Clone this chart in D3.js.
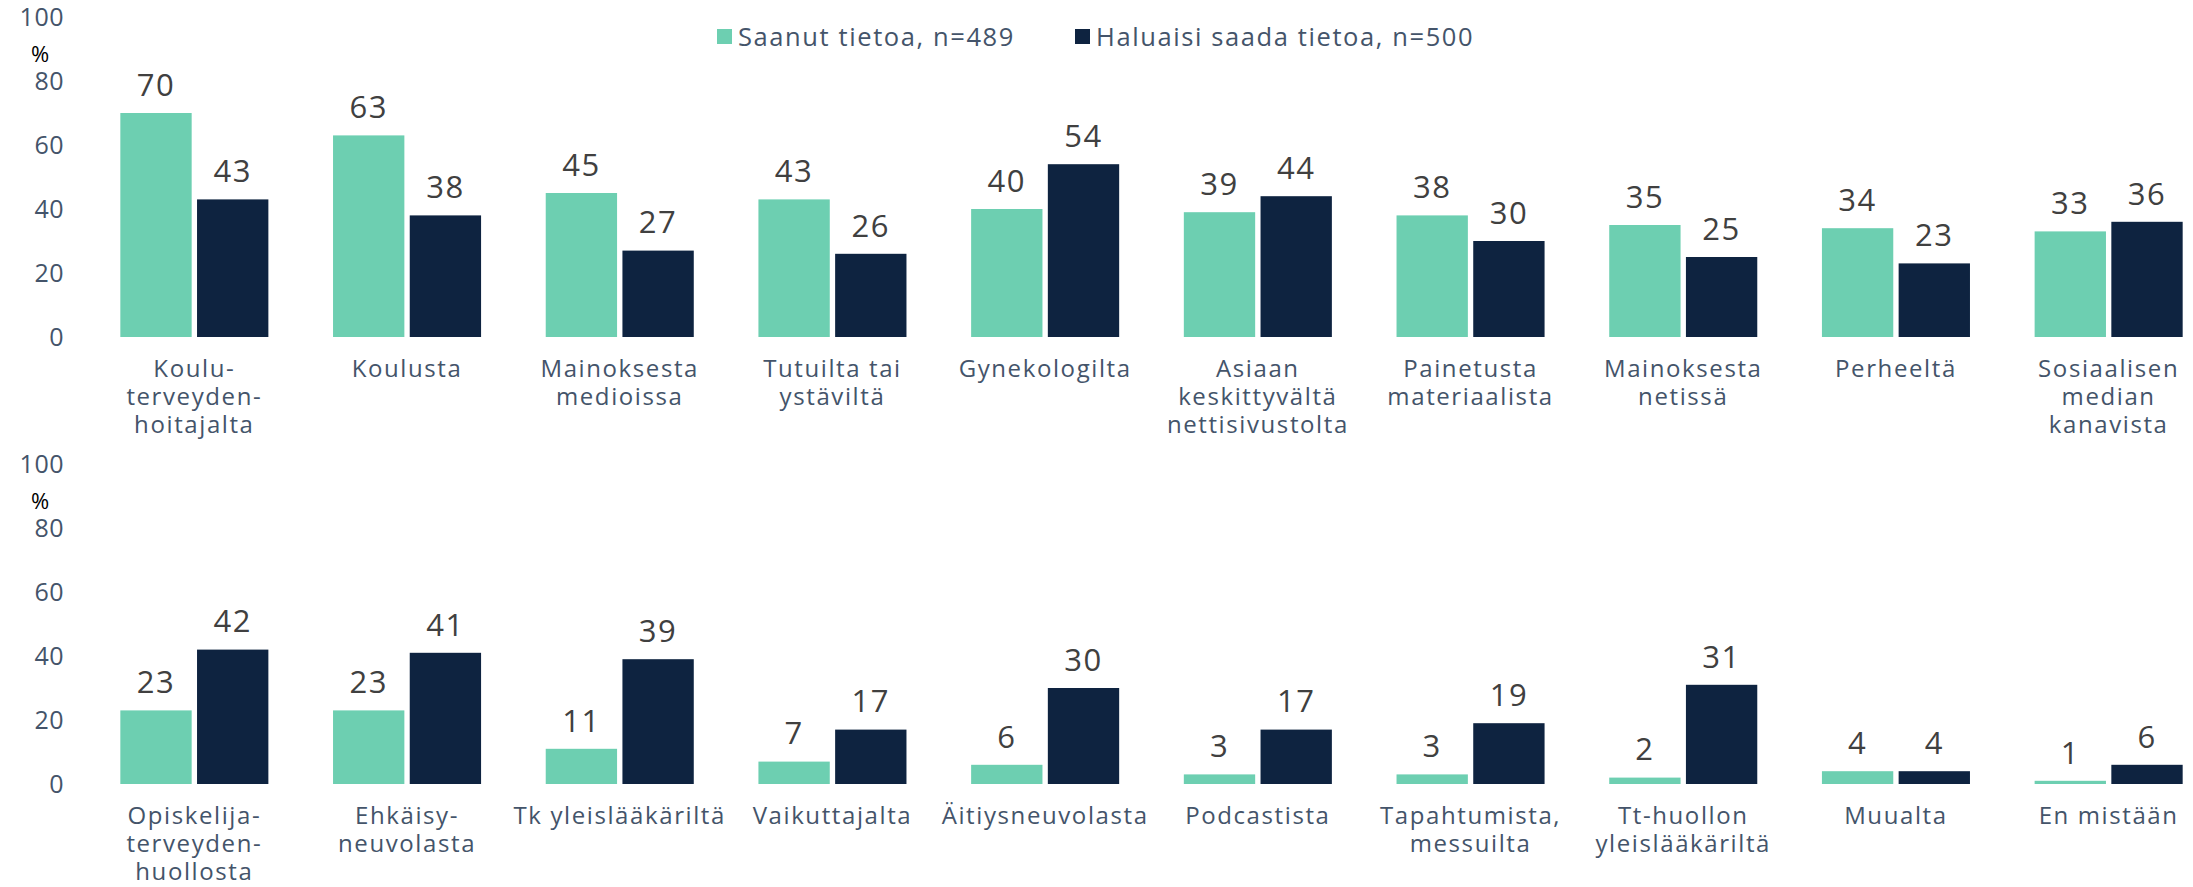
<!DOCTYPE html>
<html>
<head>
<meta charset="utf-8">
<script src="https://cdn.jsdelivr.net/npm/d3@7"></script>
<style>
  body { margin: 0; background: #fff; }
  text { font-family: "Open Sans", "Noto Sans", sans-serif; }
</style>
</head>
<body>
<script>
const width = 2193;
const height = 887;

// data
const seriesNames = ["Saanut tietoa, n=489", "Haluaisi saada tietoa, n=500"];
const colors = ["#6dcfb1", "#0e2340"];

const topCats = ["Koulu-\nterveyden-\nhoitajalta", "Koulusta", "Mainoksesta\nmedioissa", "Tutuilta tai\nystäviltä",
	"Gynekologilta", "Asiaan\nkeskittyvältä\nnettisivustolta", "Painetusta\nmateriaalista", "Mainoksesta\nnetissä",
	"Perheeltä", "Sosiaalisen\nmedian\nkanavista"];
const topSaanut = [70, 63, 45, 43, 40, 39, 38, 35, 34, 33];
const topHaluaisi = [43, 38, 27, 26, 54, 44, 30, 25, 23, 36];

const bottomCats = ["Opiskelija-\nterveyden-\nhuollosta", "Ehkäisy-\nneuvolasta", "Tk yleislääkäriltä", "Vaikuttajalta",
	"Äitiysneuvolasta", "Podcastista", "Tapahtumista,\nmessuilta", "Tt-huollon\nyleislääkäriltä", "Muualta", "En mistään"];
const bottomSaanut = [23, 23, 11, 7, 6, 3, 3, 2, 4, 1];
const bottomHaluaisi = [42, 41, 39, 17, 30, 17, 19, 31, 4, 6];

const yTicks = [0, 20, 40, 60, 80, 100];

const svg = d3.select("body")
	.append("svg")
	.attr("width", width)
	.attr("height", height);

// legend
const legendItems = [
	{ name: seriesNames[0], color: colors[0], x: 717 },
	{ name: seriesNames[1], color: colors[1], x: 1075 }
];
const legend = svg.append("g").selectAll("g")
	.data(legendItems)
	.enter().append("g")
	.attr("transform", (d) => "translate(" + d.x + ",29)");
legend.append("rect")
	.attr("width", 15)
	.attr("height", 15)
	.attr("fill", (d) => d.color);
legend.append("text")
	.attr("x", 21)
	.attr("y", 8)
	.attr("dy", ".35em")
	.style("font-size", "25.5px")
	.style("letter-spacing", "1.6px")
	.style("fill", "#44546a")
	.text((d) => d.name);

function drawPanel(cats, s1, s2, yBase, yTop) {
	const g = svg.append("g");

	const x0 = d3.scaleBand()
		.domain(cats)
		.range([88, 2215])
		.paddingInner(0.304)
		.paddingOuter(0.152);

	const x1 = d3.scaleBand()
		.domain([0, 1])
		.range([0, x0.bandwidth()])
		.paddingInner(0.07);

	const y = d3.scaleLinear()
		.domain([0, 100])
		.range([yBase, yTop]);

	// y axis
	const axis = g.append("g")
		.attr("transform", "translate(72,0)")
		.call(d3.axisLeft(y).tickValues(yTicks).tickSize(0).tickPadding(8));
	axis.select(".domain").remove();
	axis.selectAll("text")
		.style("font-family", "'Open Sans', sans-serif")
		.style("font-size", "25px")
		.style("letter-spacing", "0.5px")
		.style("fill", "#44546a");

	g.append("text")
		.attr("x", 40)
		.attr("y", y(88.5))
		.attr("dy", ".35em")
		.attr("text-anchor", "middle")
		.style("font-size", "22px")
		.style("fill", "#000")
		.text("%");

	const rows = cats.map((c, i) => ({ cat: c, values: [s1[i], s2[i]] }));

	const groups = g.selectAll(".grp")
		.data(rows)
		.enter().append("g")
		.attr("class", "grp")
		.attr("transform", (d) => "translate(" + x0(d.cat) + ",0)");

	groups.selectAll("rect")
		.data((d) => d.values)
		.enter().append("rect")
		.attr("x", (d, i) => x1(i))
		.attr("y", (d) => y(d))
		.attr("width", x1.bandwidth())
		.attr("height", (d) => y(0) - y(d))
		.attr("fill", (d, i) => colors[i]);

	groups.selectAll(".val")
		.data((d) => d.values)
		.enter().append("text")
		.attr("class", "val")
		.attr("x", (d, i) => x1(i) + x1.bandwidth() / 2)
		.attr("y", (d) => y(d) - 28)
		.attr("dy", ".35em")
		.attr("text-anchor", "middle")
		.style("font-size", "31px")
		.style("letter-spacing", "1.5px")
		.style("fill", "#404040")
		.text((d) => d);

	// category labels
	groups.append("text")
		.attr("x", x0.bandwidth() / 2)
		.attr("y", yBase + 32)
		.attr("text-anchor", "middle")
		.style("font-size", "24px")
		.style("letter-spacing", "1.6px")
		.style("fill", "#44546a")
		.selectAll("tspan")
		.data((d) => d.cat.split("\n"))
		.enter().append("tspan")
		.attr("x", x0.bandwidth() / 2)
		.attr("dy", (d, i) => i === 0 ? ".35em" : "28px")
		.text((d) => d);
}

drawPanel(topCats, topSaanut, topHaluaisi, 337, 17);
drawPanel(bottomCats, bottomSaanut, bottomHaluaisi, 784, 464);
</script>
</body>
</html>
